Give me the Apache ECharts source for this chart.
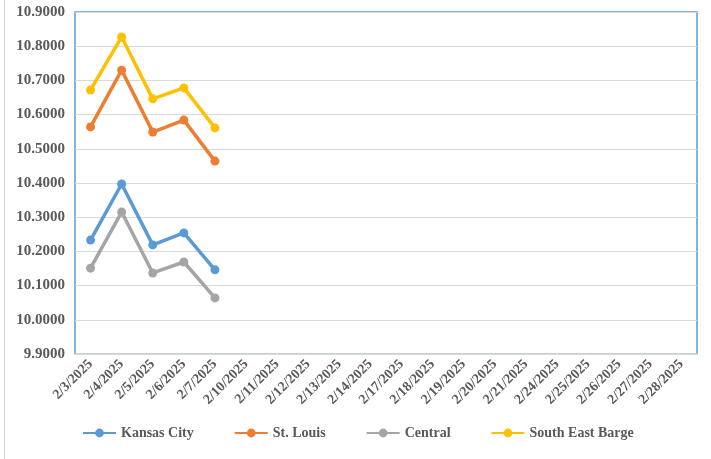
<!DOCTYPE html>
<html>
<head>
<meta charset="utf-8">
<script src="https://cdn.jsdelivr.net/npm/echarts@6/dist/echarts.min.js"></script>
<style>
   html, body { margin: 0; padding: 0; background: #fff; }
   #chart { width: 711px; height: 459px; }
   .frame { position: absolute; left: 4px; top: 0; width: 1px; height: 459px; background: #d9d9d9; }
</style>
</head>
<body>
<div class="frame"></div>
<div id="chart"></div>
<script>
const dates = [
   "2/3/2025", "2/4/2025", "2/5/2025", "2/6/2025", "2/7/2025",
   "2/10/2025", "2/11/2025", "2/12/2025", "2/13/2025", "2/14/2025",
   "2/17/2025", "2/18/2025", "2/19/2025", "2/20/2025", "2/21/2025",
   "2/24/2025", "2/25/2025", "2/26/2025", "2/27/2025", "2/28/2025"
];
const kansasCity = [10.233, 10.397, 10.219, 10.254, 10.146];
const stLouis = [10.564, 10.730, 10.549, 10.584, 10.464];
const central = [10.151, 10.315, 10.137, 10.169, 10.064];
const southEastBarge = [10.672, 10.827, 10.646, 10.678, 10.561];

const font = '"Liberation Serif", "Times New Roman", serif';
const textColor = '#595959';

const chart = echarts.init(document.getElementById('chart'));

const makeSeries = (name, data, color) => ({
   name,
   type: 'line',
   data,
   symbol: 'circle',
   symbolSize: 9,
   lineStyle: { width: 3.5, color },
   itemStyle: { color },
   animation: false
});

chart.setOption({
   textStyle: { fontFamily: font },
   grid: {
      left: 75,
      right: 14,
      top: 12,
      bottom: 105,
      show: true,
      borderColor: '#5B9BD5',
      borderWidth: 1.5
   },
   legend: {
      top: 421,
      left: 77,
      itemGap: 40,
      itemWidth: 33,
      itemHeight: 11,
      textStyle: { fontFamily: font, fontWeight: 'bold', fontSize: 14, color: textColor },
      data: ['Kansas City', 'St. Louis', 'Central', 'South East Barge']
   },
   xAxis: {
      type: 'category',
      data: dates,
      boundaryGap: true,
      axisLine: { show: true, lineStyle: { color: '#d9d9d9', width: 1.5 } },
      axisTick: { show: false },
      axisLabel: {
         rotate: 45,
         interval: 0,
         fontFamily: font,
         fontWeight: 'bold',
         fontSize: 14,
         color: textColor,
         margin: 8
      }
   },
   yAxis: {
      type: 'value',
      min: 9.9,
      max: 10.9,
      interval: 0.1,
      axisLine: { show: false },
      axisTick: { show: false },
      splitLine: { lineStyle: { color: '#d9d9d9', width: 1 } },
      axisLabel: {
         formatter: v => v.toFixed(4),
         fontFamily: font,
         fontWeight: 'bold',
         fontSize: 15,
         color: textColor,
         margin: 10
      }
   },
   series: [
      makeSeries('Kansas City', kansasCity, '#5B9BD5'),
      makeSeries('St. Louis', stLouis, '#ED7D31'),
      makeSeries('Central', central, '#A5A5A5'),
      makeSeries('South East Barge', southEastBarge, '#FFC000')
   ]
});
</script>
</body>
</html>
